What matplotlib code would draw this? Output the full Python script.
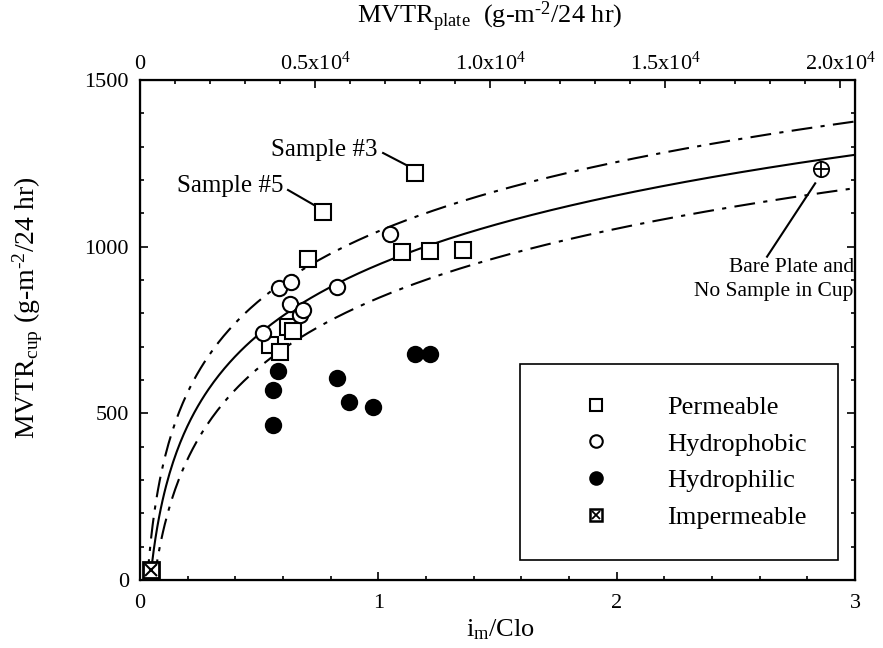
import numpy as np
import matplotlib
matplotlib.use("Agg")
import matplotlib.pyplot as plt
from matplotlib.lines import Line2D
from matplotlib.legend_handler import HandlerTuple

plt.rcParams['font.family'] = ['Liberation Serif', 'DejaVu Serif']
plt.rcParams['mathtext.fontset'] = 'custom'
plt.rcParams['mathtext.rm'] = 'Liberation Serif'
plt.rcParams['mathtext.it'] = 'Liberation Serif:italic'
plt.rcParams['mathtext.bf'] = 'Liberation Serif:bold'

# ---- data ----
perm_x = [0.546, 0.588, 0.621, 0.642, 0.705, 0.768, 1.154, 1.100, 1.217, 1.355]
perm_y = [705, 684, 759, 747, 963, 1104, 1221, 984, 987, 990]

phob_x = [0.516, 0.583, 0.634, 0.630, 0.671, 0.684, 0.827, 1.049]
phob_y = [741, 876, 894, 828, 795, 810, 879, 1038]

phil_x = [0.579, 0.558, 0.558, 0.827, 0.877, 0.978, 1.154, 1.217]
phil_y = [627, 570, 465, 606, 534, 519, 678, 678]

imperm_x = [0.046]
imperm_y = [30]

bare_x = [2.858]
bare_y = [1232]

# log-fit curves: y = a + b*ln(x)
fit_a = {'mid': 946, 'upper': 1046, 'lower': 846}
fit_b = 300

x_ticks = [0, 1, 2, 3]
y_ticks = [0, 500, 1000, 1500]
top_ticks = [0, 5000, 10000, 15000, 20000]
top_labels = ['0', r'0.5x10$^4$', r'1.0x10$^4$', r'1.5x10$^4$', r'2.0x10$^4$']
plate_per_unit = 6809.0  # MVTR_plate per unit of i_m/Clo

legend_labels = ['Permeable', 'Hydrophobic', 'Hydrophilic', 'Impermeable']

fig = plt.figure(figsize=(8.83, 6.48), dpi=100)
ax = fig.add_axes([140/883, 1-580/648, 715/883, 500/648])
ax.set_xlim(0, 3)
ax.set_ylim(0, 1500)

# curves
dashdot = (0, (10, 4, 2, 4))
for key, ls in [('upper', dashdot), ('mid', '-'), ('lower', dashdot)]:
    a = fit_a[key]
    x0 = np.exp(-a / fit_b)
    xs = np.linspace(x0, 3, 400)
    ax.plot(xs, a + fit_b*np.log(xs), color='black', lw=1.5, ls=ls, zorder=2)

ms = 11
ax.plot(perm_x, perm_y, 's', ms=ms, mfc='white', mec='black', mew=1.5, zorder=3)
ax.plot(phob_x, phob_y, 'o', ms=ms, mfc='white', mec='black', mew=1.5, zorder=3)
ax.plot(phil_x, phil_y, 'o', ms=ms, mfc='black', mec='black', mew=1.5, zorder=3)
ax.plot(imperm_x, imperm_y, 's', ms=ms, mfc='white', mec='black', mew=2, zorder=3)
ax.plot(imperm_x, imperm_y, 'x', ms=ms*0.8, mec='black', mew=1.5, zorder=4)
ax.plot(bare_x, bare_y, 'o', ms=ms, mfc='white', mec='black', mew=1.3, zorder=3)
ax.plot(bare_x, bare_y, '+', ms=ms, mec='black', mew=1.3, zorder=4)

# annotations
ax.text(0.995, 1290, 'Sample #3', ha='right', va='center', fontsize=18)
ax.plot([1.02, 1.125], [1281, 1242], color='black', lw=1.5)
ax.text(0.604, 1182, 'Sample #5', ha='right', va='center', fontsize=18)
ax.plot([0.621, 0.730], [1170, 1125], color='black', lw=1.5)
ax.text(2.995, 938, 'Bare Plate and', ha='right', va='center', fontsize=15.5)
ax.text(2.995, 865, 'No Sample in Cup', ha='right', va='center', fontsize=15.5)
ax.plot([2.631, 2.833], [970, 1190], color='black', lw=1.5)

# axes styling
for s in ax.spines.values():
    s.set_linewidth(1.6)
ax.set_xticks(x_ticks)
ax.set_yticks(y_ticks)
ax.set_xticks(np.arange(0, 3.01, 0.2), minor=True)
ax.set_yticks(np.arange(0, 1501, 100), minor=True)
ax.tick_params(which='both', direction='in', right=True, labelsize=16, width=1.2)
ax.tick_params(which='major', length=6)
ax.tick_params(which='minor', length=3)
ax.tick_params(axis='x', pad=10)
ax.tick_params(axis='y', pad=8)

ax2 = ax.twiny()
ax2.set_xlim(0, 3*plate_per_unit)
ax2.set_xticks(top_ticks)
ax2.set_xticklabels(top_labels)
ax2.set_xticks(np.arange(0, 20001, 1000), minor=True)
ax2.tick_params(which='both', direction='in', labelsize=16, width=1.2, pad=4)
ax2.tick_params(which='major', length=6)
ax2.tick_params(which='minor', length=3)

# axis labels
fig.text(500/883, 1-630/648, r'i$_{\rm m}$/Clo', ha='center', va='center', fontsize=19)
fig.text(490/883, 1-17/648, r'MVTR$_{\rm plate}$  (g-m$^{\text{-}2}$/24 hr)', ha='center',
         va='center', fontsize=19)
fig.text(28/883, 1-308/648, r'MVTR$_{\rm cup}$ (g-m$^{\text{-}2}$/24 hr)', ha='center',
         va='center', rotation=90, fontsize=20)

# legend
h_perm = Line2D([], [], ls='none', marker='s', ms=9, mfc='white', mec='black', mew=1.5)
h_phob = Line2D([], [], ls='none', marker='o', ms=9, mfc='white', mec='black', mew=1.5)
h_phil = Line2D([], [], ls='none', marker='o', ms=9, mfc='black', mec='black', mew=1.5)
h_imp1 = Line2D([], [], ls='none', marker='s', ms=9, mfc='white', mec='black', mew=1.8)
h_imp2 = Line2D([], [], ls='none', marker='x', ms=6, mec='black', mew=1.3)
leg = ax.legend([h_perm, h_phob, h_phil, (h_imp1, h_imp2)], legend_labels,
                handler_map={tuple: HandlerTuple(ndivide=1, pad=0)},
                loc='lower right', bbox_to_anchor=(0.976, 0.04), borderaxespad=0,
                fontsize=19, frameon=True, fancybox=False, framealpha=1,
                edgecolor='black', borderpad=1.18, handlelength=3.4, handletextpad=0.99,
                labelspacing=0.5)
leg.get_frame().set_linewidth(1.2)

fig.savefig('out.png', dpi=100)
